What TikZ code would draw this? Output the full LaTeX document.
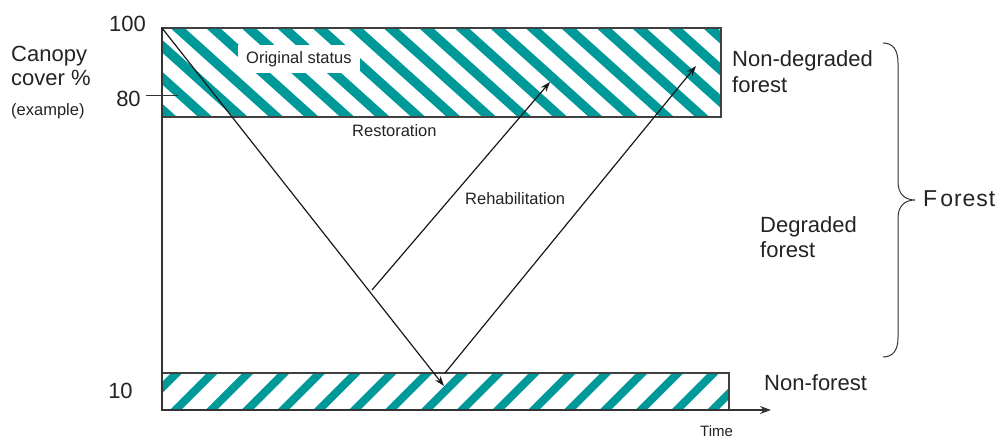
\documentclass[tikz,border=0pt]{standalone}
\usepackage{fontspec}
\setmainfont{Liberation Sans}
\usetikzlibrary{arrows.meta}
\definecolor{hatch}{RGB}{0,153,153}
\definecolor{ink}{RGB}{35,35,35}
\begin{document}
\begin{tikzpicture}[x=1pt,y=-1pt,
  bigtxt/.style={inner sep=0pt, text=ink, font=\fontsize{22}{26}\selectfont},
  smalltxt/.style={inner sep=0pt, text=ink, font=\fontsize{16.5}{20}\selectfont},
  timetxt/.style={inner sep=0pt, text=ink, font=\fontsize{15}{18}\selectfont},
  bandborder/.style={draw=black!75, line width=1.1pt},
  axisline/.style={draw=black!80, line width=1.1pt},
  arr/.style={draw=black!90, line width=1.2pt, -{Stealth[length=10pt,width=7pt]}},
  stripe/.style={draw=hatch, line width=#1},
  bracestyle/.style={draw=black!80, line width=1pt},
]
\useasboundingbox (0,0) rectangle (1001,438);

% ---- top band (non-degraded forest)
\coordinate (tbNW) at (162,28);
\coordinate (tbSE) at (721,117);
\begin{scope}
  \clip (tbNW) rectangle (tbSE);
  \foreach \k in {-6,...,16} {
    \draw[stripe=9.5pt] ({213+35.5*\k-20},{28-18}) -- ++(150,135);
  }
\end{scope}

% ---- bottom band (non-forest)
\coordinate (bbNW) at (162,373);
\coordinate (bbSE) at (729,410);
\begin{scope}
  \clip (bbNW) rectangle (bbSE);
  \foreach \k in {-1,...,17} {
    \draw[stripe=8pt] ({176.7+35.8*\k+20},{373-20}) -- ++(-80,80);
  }
\end{scope}

\draw[bandborder] (tbNW) rectangle (tbSE);
\draw[bandborder] (bbNW) rectangle (bbSE);

% ---- axes
\coordinate (ytop) at (162,28);
\coordinate (orig) at (162,410);
\coordinate (xend) at (771,410);
\draw[axisline] (ytop) -- (orig);
\draw[axisline, -{Stealth[length=11pt,width=8pt]}] (orig) -- (xend);
\coordinate (t80a) at (146,95);
\coordinate (t80b) at (178,95);
\draw[axisline, line width=0.9pt] (t80a) -- (t80b);

% ---- label inside top band
\node[smalltxt, fill=white, inner xsep=8pt, inner ysep=6pt, anchor=base west] (orig status) at (238,63.3) {Original status};

% ---- arrows
\coordinate (deg0) at (162,28);
\coordinate (deg1) at (444,386);
\draw[arr] (deg0) -- (deg1);
\coordinate (res0) at (372,290);
\coordinate (res1) at (550,82);
\draw[arr] (res0) -- (res1);
\coordinate (reh0) at (445,373);
\coordinate (reh1) at (696,66);
\draw[arr] (reh0) -- (reh1);

% ---- brace
\coordinate (brTop) at (883,43);
\coordinate (brTip) at (915,200);
\coordinate (brBot) at (883,357);
\draw[bracestyle] (brTop) .. controls (893,43) and (898,50) .. (898,63) -- (898,182)
  .. controls (898,194) and (905,200) .. (brTip)
  .. controls (905,200) and (898,206) .. (898,218) -- (898,338)
  .. controls (898,350) and (893,357) .. (brBot);

% ---- texts
\node[bigtxt, anchor=base west] (canopy) at (11,61.7) {Canopy};
\node[bigtxt, anchor=base west] (cover) at (11,86) {cover \%};
\node[smalltxt, anchor=base west] (example) at (11,116) {(example)};
\node[bigtxt, anchor=base] (l100) at (127.5,31.7) {100};
\node[bigtxt, anchor=base] (l80) at (128.5,106.5) {80};
\node[bigtxt, anchor=base] (l10) at (120.5,398) {10};
\node[smalltxt, anchor=base west] (restor) at (352,137) {Restoration};
\node[smalltxt, anchor=base west] (rehab) at (465,205) {Rehabilitation};
\node[bigtxt, anchor=base west] (nondeg1) at (732,66.7) {Non-degraded};
\node[bigtxt, anchor=base west] (nondeg2) at (732,93) {forest};
\node[bigtxt, anchor=base west] (deg1t) at (760,232.7) {Degraded};
\node[bigtxt, anchor=base west] (deg2t) at (760,258) {forest};
\node[bigtxt, anchor=base west] (nonfor) at (764,390.7) {Non-forest};
\node[bigtxt, font=\fontsize{23}{27}\selectfont, anchor=base west] (forest) at (923,206.7) {F\kern3pt o\kern1pt r\kern1pt e\kern1pt s\kern1pt t};
\node[timetxt, anchor=base west] (time) at (700,436.7) {Time};
\end{tikzpicture}
\end{document}
